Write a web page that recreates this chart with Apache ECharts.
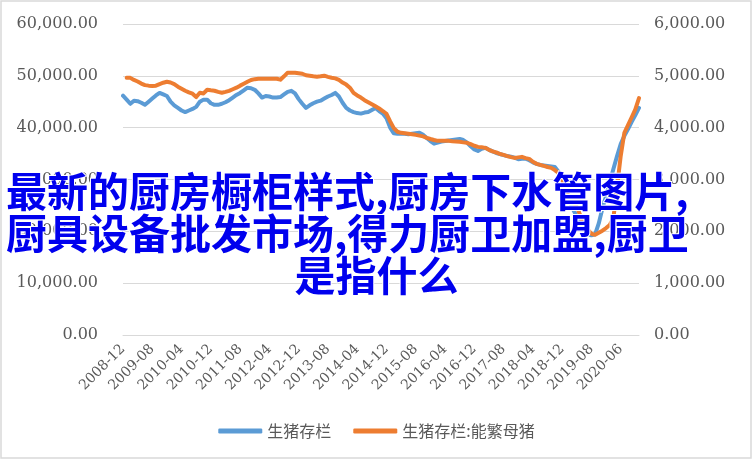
<!DOCTYPE html>
<html>
<head>
<meta charset="utf-8">
<script src="https://cdn.jsdelivr.net/npm/echarts@6/dist/echarts.min.js"></script>
<style>html,body{margin:0;padding:0;background:#fff;}#c{width:753px;height:460px;}</style>
</head>
<body>
<div id="c"></div>
<script>
// Categories: monthly from 2008-12 to 2020-11 (2020-01, 2020-02 absent)
var skipMonths = ['2020-01', '2020-02'];
var categories = ['2008-12'];
for (var y = 2009; y <= 2020; y++) {
  for (var m = 1; m <= 12; m++) {
    var s = y + '-' + (m < 10 ? '0' + m : m);
    if (skipMonths.indexOf(s) >= 0) continue;
    if (y === 2020 && m > 11) continue;
    categories.push(s);
  }
}

var seriesNames = ['生猪存栏', '生猪存栏:能繁母猪'];

// 生猪存栏 (left axis)
var hogStock = [
  46150, 45400, 44600, 45200, 45100, 44800, 44400, 45000, 45600, 46200,
  46700, 46400, 46100, 45000, 44300, 43800, 43300, 43000, 43300, 43600,
  44000, 45000, 45400, 45400, 44700, 44400, 44400, 44600, 44900, 45300,
  45800, 46300, 46700, 47200, 47700, 47600, 47300, 46600, 45800, 46100,
  46000, 45800, 45800, 45900, 46400, 46900, 47100, 46600, 45500, 44600,
  43800, 44300, 44700, 45000, 45200, 45600, 46000, 46300, 46700, 46000,
  44800, 43800, 43300, 43000, 42800, 42700, 42900, 43000, 43400, 43800,
  43200, 42700, 41800, 40000, 38900, 38800, 38800, 38800, 38700, 38800,
  38900, 39000, 38600, 38000, 37400, 36900, 37100, 37300, 37400, 37500,
  37600, 37700, 37800, 37600, 37100, 36400, 35800, 35500, 35900, 36100,
  35700, 35400, 35100, 34900, 34700, 34500, 34400, 34200, 33900, 34000,
  34000, 33700, 33300, 33000, 32800, 32700, 32600, 32500, 32400, 31500,
  30200, 27500, 25800, 24200, 22900, 21500, 20300, 19400, 19200, 19400,
  21500, 24400, 26800, 29400, 32000, 34500, 36800, 38400, 39700, 41100,
  42400, 43800
];

// 生猪存栏:能繁母猪 (right axis)
var sowStock = [
  null, 4963, 4960, 4920, 4890, 4850, 4820, 4810, 4805, 4810,
  4840, 4866, 4886, 4870, 4840, 4790, 4750, 4712, 4680, 4654,
  4590, 4673, 4660, 4730, 4720, 4712, 4690, 4673, 4690, 4710,
  4740, 4770, 4810, 4847, 4885, 4920, 4935, 4944, 4944, 4944,
  4944, 4944, 4944, 4925, 4990, 5060, 5060, 5060, 5050, 5040,
  5010, 5000, 4990, 4983, 4990, 5002, 4980, 4963, 4950, 4920,
  4870, 4830, 4770, 4670, 4620, 4580, 4530, 4490, 4450, 4410,
  4370, 4320, 4267, 4120, 3990, 3920, 3899, 3890, 3880, 3870,
  3860, 3845, 3830, 3802, 3780, 3760, 3744, 3744, 3744, 3744,
  3735, 3730, 3725, 3715, 3706, 3680, 3650, 3628, 3620, 3609,
  3570, 3540, 3520, 3490, 3473, 3450, 3430, 3415, 3425, 3435,
  3410, 3396, 3340, 3300, 3280, 3261, 3240, 3222, 3180, 3125,
  3000, 2800, 2641, 2550, 2470, 2300, 2120, 2030, 1950, 1930,
  1970, 2010, 2060, 2120, 2250, 2850, 3450, 3900, 4050, 4200,
  4350, 4570
];

var titleLines = ['最新的厨房橱柜样式,厨房下水管图片,', '厨具设备批发市场,得力厨卫加盟,厨卫', '是指什么'];

var fmt = function (v) {
  return Number(v).toLocaleString('en-US', {minimumFractionDigits: 2, maximumFractionDigits: 2});
};

var chart = echarts.init(document.getElementById('c'));
var labelFont = 'DejaVu Serif';
var titleFont = 'bold 41px "Noto Sans CJK SC"';
chart.setOption({
  backgroundColor: '#fff',
  animation: false,
  grid: {left: 123, right: 114, top: 24, bottom: 125.2},
  legend: {
    bottom: 16,
    left: 'center',
    itemWidth: 44,
    itemHeight: 5,
    itemGap: 22,
    icon: 'roundRect',
    textStyle: {color: '#595959', fontSize: 16, fontFamily: 'Noto Sans CJK SC'},
    data: seriesNames
  },
  xAxis: {
    type: 'category',
    data: categories,
    boundaryGap: false,
    axisLine: {show: true, lineStyle: {color: '#d9d9d9', width: 1}},
    axisTick: {show: false},
    axisLabel: {
      interval: 7, rotate: 45, margin: 12,
      color: '#595959', fontSize: 14, fontFamily: labelFont
    },
    splitLine: {show: false}
  },
  yAxis: [
    {
      type: 'value', min: 0, max: 60000, interval: 10000,
      axisLine: {show: false}, axisTick: {show: false},
      axisLabel: {formatter: fmt, color: '#595959', fontSize: 16, margin: 25, fontFamily: labelFont},
      splitLine: {lineStyle: {color: '#d9d9d9', width: 1}}
    },
    {
      type: 'value', min: 0, max: 6000, interval: 1000,
      axisLine: {show: false}, axisTick: {show: false},
      axisLabel: {formatter: fmt, color: '#595959', fontSize: 16, margin: 15, fontFamily: labelFont},
      splitLine: {show: false}
    }
  ],
  series: [
    {
      name: seriesNames[0], type: 'line', yAxisIndex: 0, data: hogStock,
      symbol: 'none', smooth: false,
      lineStyle: {color: '#5B9BD5', width: 4, cap: 'round', join: 'round'},
      itemStyle: {color: '#5B9BD5'}
    },
    {
      name: seriesNames[1], type: 'line', yAxisIndex: 1, data: sowStock,
      symbol: 'none', smooth: false,
      lineStyle: {color: '#ED7D31', width: 4, cap: 'round', join: 'round'},
      itemStyle: {color: '#ED7D31'}
    }
  ],
  graphic: [
    {
      type: 'rect', z: 200, silent: true,
      shape: {x: 1, y: 1, width: 750, height: 457},
      style: {fill: 'none', stroke: '#d9d9d9', lineWidth: 1.5}
    },
    {
      type: 'text', z: 100, left: 5, top: 170,
      style: {text: titleLines[0], fill: '#0000EE', font: titleFont, stroke: '#fff', lineWidth: 2}
    },
    {
      type: 'text', z: 100, left: 5, top: 212,
      style: {text: titleLines[1], fill: '#0000EE', font: titleFont, stroke: '#fff', lineWidth: 2}
    },
    {
      type: 'text', z: 100, left: 'center', top: 254,
      style: {text: titleLines[2], fill: '#0000EE', font: titleFont, stroke: '#fff', lineWidth: 2}
    }
  ]
});
</script>
</body>
</html>
